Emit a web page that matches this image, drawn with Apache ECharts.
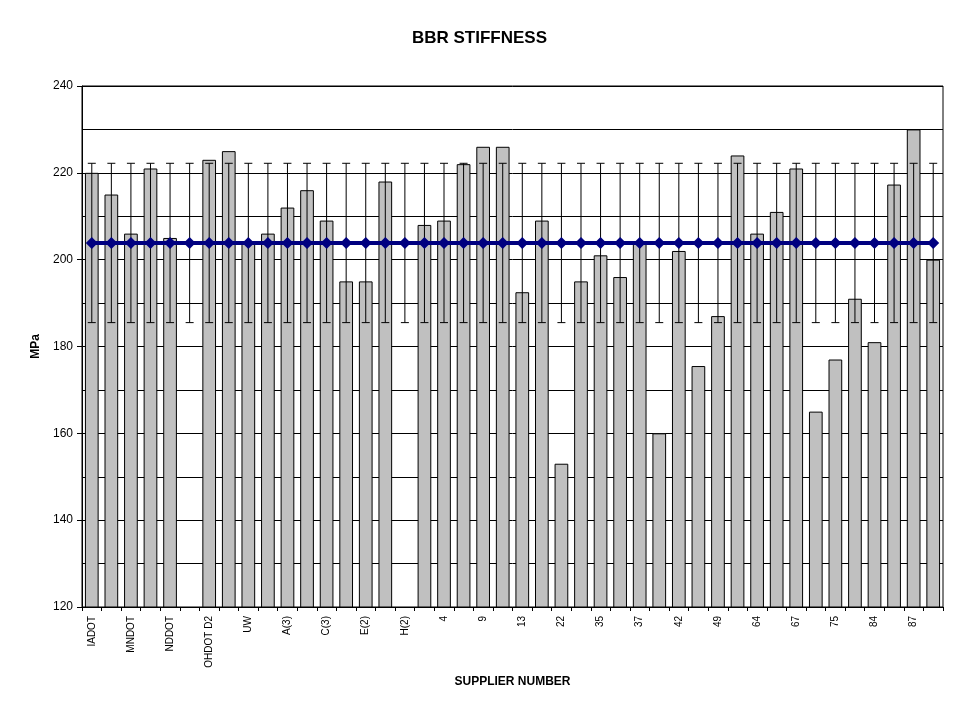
<!DOCTYPE html>
<html>
<head>
<meta charset="utf-8">
<script src="https://cdn.jsdelivr.net/npm/echarts@6/dist/echarts.min.js"></script>
<style>
html,body{margin:0;padding:0;background:#fff;}
#c{width:959px;height:719px;}
</style>
</head>
<body>
<div id="c"></div>
<script>
const categories = ['IADOT','','MNDOT','','NDDOT','','OHDOT D2','','UW','','A(3)','','C(3)','','E(2)','','H(2)','','4','','9','','13','','22','','35','','37','','42','','49','','64','','67','','75','','84','','87',''];
const stiffness = [220,215,206,221,205,null,223,225,204,206,212,216,209,195,195,218,null,208,209,222,226,226,192.5,209,153,195,201,196,204,160,202,175.5,187,224,206,211,221,165,177,191,181,217.3,230,200];
const MEAN = 203.85;
const ERR = 18.35;
const yTicks = [120,140,160,180,200,220,240];

const meanLine = categories.map(() => MEAN);
const errData = categories.map((c, i) => [i, MEAN - ERR, MEAN + ERR]);

const FONT = "'Liberation Sans', Arial, sans-serif";
const chart = echarts.init(document.getElementById('c'), null, {renderer: 'canvas'});
chart.setOption({
  animation: false,
  backgroundColor: '#fff',
  title: {
    text: 'BBR STIFFNESS', left: 'center', top: 25,
    textStyle: {fontFamily: FONT, fontSize: 17, fontWeight: 'bold', color: '#000'}
  },
  grid: {left: 82, right: 16, top: 86, bottom: 112, show: true, borderColor: '#000', borderWidth: 1, backgroundColor: '#fff'},
  xAxis: {
    type: 'category', data: categories,
    name: 'SUPPLIER NUMBER', nameLocation: 'middle', nameGap: 68,
    nameTextStyle: {fontFamily: FONT, fontSize: 12, fontWeight: 'bold', color: '#000'},
    axisLine: {lineStyle: {color: '#000', width: 1}},
    axisTick: {show: true, interval: 0, length: 4, lineStyle: {color: '#000'}},
    axisLabel: {interval: 1, rotate: 90, fontFamily: FONT, fontSize: 10, color: '#000', margin: 9},
    splitLine: {show: false}
  },
  yAxis: {
    type: 'value', min: yTicks[0], max: yTicks[yTicks.length - 1], interval: 20,
    name: 'MPa', nameLocation: 'middle', nameGap: 40, nameRotate: 90,
    nameTextStyle: {fontFamily: FONT, fontSize: 12, fontWeight: 'bold', color: '#000'},
    axisLine: {show: true, lineStyle: {color: '#000', width: 1}},
    axisTick: {show: true, length: 5, lineStyle: {color: '#000'}},
    axisLabel: {fontFamily: FONT, fontSize: 12, color: '#000', margin: 9},
    splitLine: {show: true, lineStyle: {color: '#000', width: 1}},
    minorTick: {show: false, splitNumber: 2},
    minorSplitLine: {show: true, lineStyle: {color: '#000', width: 1}}
  },
  series: [
    {
      type: 'bar', data: stiffness, barWidth: '70%',
      itemStyle: {color: '#c0c0c0', borderColor: '#000', borderWidth: 1},
      z: 2
    },
    {
      type: 'custom', data: errData, z: 3,
      renderItem: function (params, api) {
        const x = api.value(0);
        const lo = api.coord([x, api.value(1)]);
        const hi = api.coord([x, api.value(2)]);
        const w = 4;
        const st = {stroke: '#000', lineWidth: 1};
        return {type: 'group', children: [
          {type: 'line', shape: {x1: lo[0], y1: lo[1], x2: hi[0], y2: hi[1]}, style: st},
          {type: 'line', shape: {x1: lo[0] - w, y1: lo[1], x2: lo[0] + w, y2: lo[1]}, style: st},
          {type: 'line', shape: {x1: hi[0] - w, y1: hi[1], x2: hi[0] + w, y2: hi[1]}, style: st}
        ]};
      }
    },
    {
      type: 'line', data: meanLine, z: 4,
      symbol: 'diamond', symbolSize: 12,
      lineStyle: {color: '#000080', width: 4},
      itemStyle: {color: '#000080'}
    }
  ]
});
</script>
</body>
</html>
